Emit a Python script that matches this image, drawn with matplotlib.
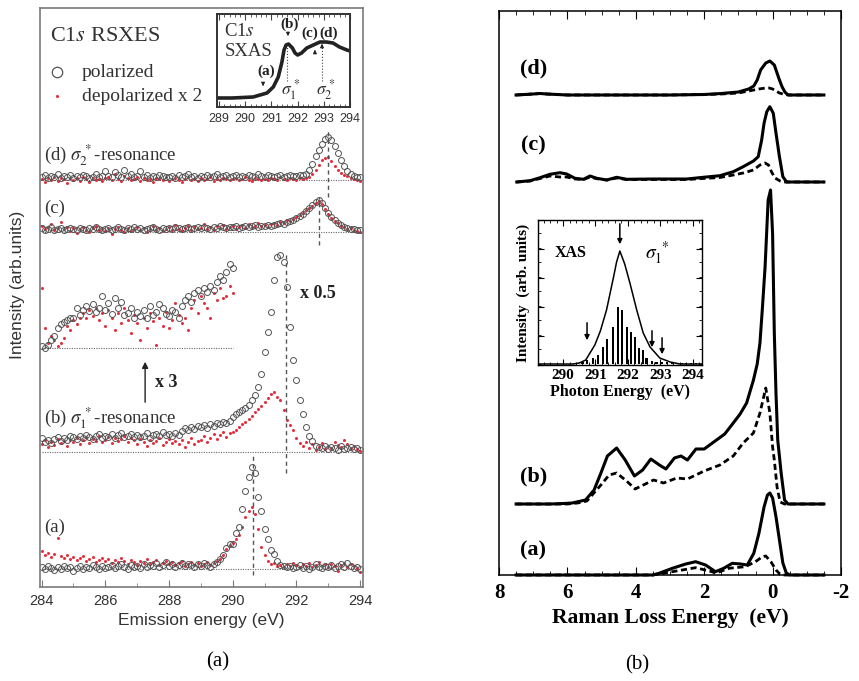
import numpy as np
import matplotlib
matplotlib.use('Agg')
import matplotlib.pyplot as plt
from matplotlib.ticker import MultipleLocator

plt.rcParams['font.family'] = ['Liberation Serif', 'DejaVu Serif']
plt.rcParams['mathtext.fontset'] = 'stix'
plt.rcParams['axes.unicode_minus'] = False

W, H = 859, 681

# ---------------- data: panel (a), RSXES spectra ----------------
# emission energy grid 284.0 ... 294.0 eV (0.1 eV step)
energy = np.linspace(284.0, 294.0, 101)

pol_d = [3, 5, 2, 4, 3, 6, 2, 4, 3, 5,
         2, 4, 3, 5, 4, 2, 3, 6, 3, 4,
         9, 4, 3, 8, 5, 3, 10, 4, 6, 3,
         4, 9, 3, 5, 2, 4, 3, 5, 4, 3,
         3, 4, 2, 5, 3, 4, 6, 3, 4, 2,
         4, 3, 5, 3, 4, 6, 3, 4, 5, 3,
         4, 5, 3, 4, 3, 5, 4, 3, 6, 4,
         3, 5, 4, 3, 4, 5, 3, 4, 5, 4,
         4, 5, 5, 6, 10, 16, 24, 30, 36, 41,
         43, 40, 34, 27, 20, 14, 9, 6, 4, 3, 3]
dep_d = [1, -2, 2, 0, 3, -1, 2, 1, -3, 2,
         0, 2, -1, 3, 1, -2, 2, 0, 1, -1,
         2, 3, 0, 6, 1, -1, 4, 2, 0, 1,
         3, -1, 2, 0, 1, -2, 2, 1, 0, 3,
         -1, 1, 2, 0, -2, 1, 3, 0, 1, -1,
         2, 0, 1, 3, -1, 1, 0, 2, 1, 0,
         1, 2, 0, 1, 3, 0, -1, 2, 1, 0,
         1, 0, 2, 1, 0, 3, 1, 0, 2, 1,
         0, 2, 1, 2, 3, 6, 10, 15, 20, 22,
         23, 19, 14, 10, 7, 5, 4, 2, 1, 0, -1]

pol_c = [4, 2, 3, 5, 2, 3, 4, 2, 3, 4,
         3, 2, 4, 3, 2, 4, 3, 5, 3, 2,
         3, 4, 2, 3, 5, 3, 2, 4, 3, 5,
         3, 4, 2, 3, 4, 5, 3, 2, 4, 3,
         4, 3, 5, 4, 3, 4, 5, 3, 4, 5,
         4, 5, 4, 3, 5, 4, 6, 5, 4, 5,
         5, 6, 4, 5, 6, 5, 6, 7, 5, 6,
         6, 7, 6, 7, 8, 9, 8, 10, 11, 12,
         14, 16, 18, 21, 24, 27, 30, 32, 29, 24,
         19, 15, 12, 9, 7, 5, 4, 3, 3, 2, 2]
dep_c = [6, 3, 5, 8, 2, 4, 10, 3, 5, 1,
         4, -1, 3, 5, 2, 0, 4, 6, 2, 3,
         1, 4, -2, 3, 5, 2, 0, 4, 1, 3,
         5, 2, 4, 0, 3, 6, 2, 4, 1, 3,
         5, 2, 7, 3, 1, 4, 6, 2, 5, 3,
         4, 8, 3, 5, 2, 6, 4, 7, 3, 5,
         6, 3, 5, 7, 4, 8, 5, 6, 9, 6,
         7, 5, 8, 9, 7, 10, 9, 12, 11, 13,
         15, 17, 19, 22, 24, 26, 29, 31, 28, 23,
         18, 14, 11, 9, 6, 5, 3, 4, 2, 1, 0]

# (b) polarized shown x 0.5
pol_b = [14, 10, 12, 9, 13, 15, 11, 14, 12, 16,
         15, 13, 16, 14, 17, 15, 13, 16, 18, 14,
         16, 15, 18, 14, 17, 19, 15, 16, 18, 15,
         17, 15, 16, 19, 14, 17, 18, 16, 20, 17,
         18, 16, 19, 17, 21, 24, 22, 25, 23, 26,
         25, 27, 24, 28, 26, 29, 28, 30, 29, 31,
         35, 38, 40, 42, 44, 47, 52, 57, 65, 78,
         100, 120, 140, 172, 195, 197, 190, 165, 125, 92,
         72, 52, 38, 25, 16, 11, 6, 5, 4, 6,
         3, 5, 4, 2, 6, 3, 4, 5, 3, 4, 2]
dep_b = [8, 12, 5, 10, 7, 13, 9, 11, 6, 12,
         10, 14, 8, 12, 15, 9, 13, 11, 16, 10,
         12, 15, 9, 14, 11, 13, 16, 10, 14, 12,
         8, 13, 10, 6, 12, 9, 11, 14, 7, 10,
         13, 9, 11, 8, 12, 5, 10, 14, 8, 11,
         12, 16, 10, 14, 18, 13, 17, 20, 15, 19,
         20, 22, 25, 28, 30, 33, 36, 40, 43, 46,
         50, 54, 58, 60, 55, 52, 42, 32, 27, 22,
         14, 9, 6, 10, 4, 8, 2, 5, 9, 3,
         6, 4, 10, 7, 5, 12, 8, 4, 6, 3, 1]

# (b) low-energy part x 3, 284.0 ... 290.0 eV
energy_x3 = np.linspace(284.0, 290.0, 61)
pol_x3 = [2, 0, 3, 8, 12, 20, 24, 26, 28, 30,
          30, 40, 33, 38, 42, 37, 44, 36, 40, 52,
          38, 45, 34, 50, 40, 46, 33, 35, 40, 30,
          36, 32, 38, 30, 42, 33, 36, 44, 40, 34,
          32, 38, 36, 30, 42, 48, 52, 46, 55, 58,
          52, 60, 56, 62, 58, 66, 72, 68, 76, 84, 80]
dep_x3 = [60, 20, 5, 12, 8, 2, 5, 10, 22, 18,
          28, 24, 30, 35, 30, 38, 32, 40, 28, 35,
          22, 38, 30, 18, 35, 25, 40, 28, 15, 33,
          25, 8, 30, 20, 35, 27, 3, 30, 22, 36,
          20, 28, 45, 33, 25, 30, 18, 40, 48, 35,
          52, 45, 40, 30, 55, 48, 60, 50, 52, 62, 55]

pol_a = [2, 0, 3, 1, -1, 2, 0, 3, 1, 2,
         -2, 1, 3, 0, 2, 1, 4, 2, 0, 3,
         1, 2, 4, 1, 3, 5, 2, 0, 4, 2,
         3, 1, 5, 2, 4, 3, 6, 2, 4, 7,
         3, 5, 2, 4, 6, 3, 5, 4, 2, 5,
         3, 6, 4, 2, 5, 7, 10, 14, 21, 25,
         25, 36, 42, 60, 78, 92, 102, 96, 72, 58,
         40, 30, 19, 15, 8, 4, 3, 2, 3, 1,
         2, 4, 1, 3, 0, 2, 5, 2, 1, 3,
         2, 4, 1, 3, 5, 2, 6, 3, 1, 2, 0]
dep_a = [18, 14, 16, 12, 15, 31, 13, 11, 14, 10,
         12, 9, 11, 13, 8, 10, 12, 7, 9, 11,
         8, 10, 6, 9, 7, 11, 8, 5, 9, 7,
         4, 8, 6, 10, 5, 7, 9, 4, 6, 8,
         5, 7, 4, 6, 8, 3, 5, 7, 4, 6,
         3, 5, 7, 4, 6, 8, 10, 14, 20, 24,
         26, 30, 34, 42, 52, 58, 62, 55, 40, 22,
         14, 8, 5, 6, 3, 4, 2, 5, 3, 6,
         4, 2, 5, 3, 6, 2, 4, 7, 3, 5,
         2, 5, 3, -2, 4, 6, 2, 5, 3, 1, -3]

# C1s SXAS (inset of panel a)
sxas_e = [288.95, 289.5, 290.3, 290.83, 291.07, 291.26, 291.4, 291.48, 291.56, 291.65,
          291.8, 291.9, 292.0, 292.15, 292.35, 292.6, 292.85, 293.1, 293.35, 293.6, 293.88, 294.0]
sxas_i = [9, 9, 10, 14, 20, 30, 45, 57, 62, 63,
          59, 54, 52, 54, 59, 62, 65, 65, 64, 60, 57, 56]

# ---------------- data: panel (b), calculated spectra ----------------
loss_d = [7.5, 7.0, 6.8, 6.6, 6.0, 5.0, 4.0, 3.0, 2.0, 1.5, 1.0, 0.7, 0.55, 0.45, 0.35,
          0.2, 0.08, -0.05, -0.12, -0.2, -0.28, -0.36, -0.45, -0.7, -1.5]
sol_d = [0, 1, 1.5, 1, 0, 0, 0, 0, 0.5, 1.5, 3, 6, 9, 15, 25,
         32, 34, 30, 23, 15, 8, 3, 0, 0, 0]
loss_d2 = [7.5, 7.0, 6.8, 6.6, 6.0, 3.0, 2.0, 1.5, 1.0, 0.7, 0.4, 0.2, 0.1, 0.0, -0.1, -0.2, -0.35, -0.5, -1.5]
dsh_d = [0, 1, 1.5, 1, 0, 0, 0.5, 1, 2, 4, 6, 7, 7, 6, 4, 2, 0.5, 0, 0]

loss_c = [7.48, 7.09, 6.80, 6.51, 6.22, 6.02, 5.78, 5.53, 5.34, 5.14, 4.85, 4.56, 4.27, 3.5,
          2.51, 2.03, 1.54, 1.15, 0.86, 0.56, 0.42, 0.32, 0.25, 0.17, 0.08, -0.02, -0.10,
          -0.2, -0.30, -0.41, -1.5]
sol_c = [0, 1.3, 4.3, 7.7, 9.3, 8, 3.7, 2.7, 6, 3.7, 2, 4.7, 2.7, 3,
         3, 4.7, 6.3, 10.3, 15.3, 21, 25.3, 42, 58.7, 70.3, 75.3, 68.7, 48.7,
         25.3, 5.3, 0, 0]
loss_c2 = [7.48, 7.09, 6.80, 6.51, 6.22, 6.02, 5.78, 5.53, 5.34, 5.14, 4.85, 4.56, 4.27, 3.5,
           2.51, 2.03, 1.54, 1.15, 0.86, 0.56, 0.37, 0.22, 0.12, 0.03, -0.07, -0.22, -0.32, -1.5]
dsh_c = [0, 1, 3.5, 6, 5, 5, 3, 2.5, 5, 3.3, 2, 4, 2.5, 2.5,
         2.5, 3.5, 4.5, 7, 9, 12, 17, 19, 17, 10, 4, 1, 0, 0]

loss_b = [7.5, 6.5, 6.1, 5.86, 5.47, 5.22, 5.02, 4.83, 4.56, 4.31,
          4.04, 3.8, 3.56, 3.31, 3.12, 2.87, 2.68, 2.49, 2.24, 2.0,
          1.8, 1.6, 1.4, 1.15, 0.95, 0.76, 0.56, 0.45, 0.37, 0.3,
          0.22, 0.13, 0.06, 0.0, -0.05, -0.1, -0.15, -0.25, -0.35, -0.45,
          -0.6, -1.0, -1.5]
sol_b = [0, 0, 0.5, 1, 4, 14, 31, 48, 56, 44,
         28, 34, 45, 39, 35, 46, 48, 44, 55, 55,
         60, 65, 70, 81, 90, 101, 124, 140, 161, 195,
         237, 304, 314, 270, 171, 110, 64, 31, 4, 0,
         0, 0, 0]
loss_b2 = [7.5, 6.0, 5.7, 5.43, 5.02, 4.78, 4.56, 4.27, 4.02, 3.78, 3.48, 3.19, 2.8, 2.49,
           2.0, 1.54, 1.15, 0.86, 0.56, 0.37, 0.2, 0.08, 0.0, -0.05, -0.13, -0.22, -0.35, -1.5]
dsh_b = [0, 0, 1, 3, 19, 29, 31, 23, 15, 19, 24, 21, 26, 25,
         33, 39, 48, 61, 71, 91, 116, 91, 57, 44, 17, 2, 0, 0]

loss_a = [7.5, 3.5, 3.32, 2.93, 2.54, 2.25, 1.96, 1.67, 1.43, 1.18, 0.94, 0.74, 0.55, 0.4,
          0.25, 0.15, 0.08, 0.0, -0.1, -0.2, -0.3, -0.4, -0.5, -1.5]
sol_a = [0, 0, 1.7, 6.7, 11, 13.3, 10, 3.3, 6.7, 11.7, 11, 10, 21.7, 41.7,
         68, 80, 82, 77, 58, 35, 12, 2, 0, 0]
loss_a2 = [7.5, 3.5, 2.93, 2.25, 1.77, 1.67, 1.28, 0.8, 0.5, 0.3, 0.2, 0.05, -0.1, -0.22, -0.3, -1.5]
dsh_a = [0, 0, 3.3, 7.3, 3.3, 1.7, 6.7, 8.3, 13.3, 18.3, 19, 13.3, 5, 0.7, 0, 0]

# XAS inset of panel b
xas_e = [289.2, 290.3, 290.5, 290.7, 290.98, 291.15, 291.34, 291.55, 291.65, 291.75, 291.9,
         292.06, 292.27, 292.47, 292.68, 292.98, 293.3, 293.6, 294.3]
xas_i = [0, 0, 1, 4, 19, 33, 54, 86, 102, 113, 100,
         81, 54, 31, 17, 6, 2, 0, 0]
stick_e = [290.6, 290.75, 290.91, 291.07, 291.22, 291.36, 291.53, 291.68, 291.83, 291.96,
           292.09, 292.22, 292.34, 292.45, 292.57, 292.73, 292.88, 293.04, 293.2, 293.35,
           293.5, 293.65, 293.8, 293.95, 294.1]
stick_i = [2, 4, 6, 9, 17, 25, 37, 57, 54, 37,
           32, 27, 16, 14, 6, 3, 2, 1.5, 1.5, 1,
           1, 1, 1, 1, 1]


def box(x0, y0, x1, y1):
    # pixel box -> figure fraction
    return [x0 / W, 1 - y1 / H, (x1 - x0) / W, (y1 - y0) / H]


fig = plt.figure(figsize=(W / 100, H / 100), dpi=100)
fig.patch.set_facecolor('white')

gray = '#7a7a7a'
red = '#e3303e'
ink = '#333333'
sans = ['Liberation Sans', 'DejaVu Sans']

# ===================== panel (a) =====================
ax = fig.add_axes(box(40, 8, 363, 587))
ax.set_xlim(283.95, 294.09)
ax.set_ylim(0, 579)
for s in ax.spines.values():
    s.set_color(gray)
    s.set_linewidth(1.2)
ax.set_yticks([])
ax.xaxis.set_major_locator(MultipleLocator(2))
ax.xaxis.set_minor_locator(MultipleLocator(1))
ax.tick_params(axis='x', which='both', direction='in', color=gray, top=False)
ax.tick_params(axis='x', which='major', length=5, labelsize=10.5, labelcolor=ink, pad=5)
ax.tick_params(axis='x', which='minor', length=3)
for lab in ax.get_xticklabels():
    lab.set_family(sans)
ax.set_xlabel('Emission energy (eV)', family=sans, fontsize=12.5, color=ink, labelpad=4)
fig.text(18 / W, 1 - 285 / H, 'Intensity (arb.units)', rotation=90, ha='center', va='center',
         family=sans, fontsize=12.5, color=ink)

bases = {'d': 407, 'c': 355, 'b': 135, 'a': 18}
series = [('d', pol_d, dep_d), ('c', pol_c, dep_c), ('b', pol_b, dep_b), ('a', pol_a, dep_a)]
for key, pol, dep in series:
    b0 = bases[key]
    ax.plot([284, 294], [b0, b0], ls=(0, (1, 1.2)), color='#666666', lw=0.8)
    ax.plot(energy, b0 + np.array(dep), '.', color=red, ms=4.4, mew=0)
    ax.plot(energy, b0 + np.array(pol), 'o', mfc='none', mec='#555555', ms=4.3, mew=0.7)

b3 = 239
ax.plot([284, 290], [b3, b3], ls=(0, (1, 1.2)), color='#666666', lw=0.8)
ax.plot(energy_x3, b3 + np.array(dep_x3), '.', color=red, ms=4.4, mew=0)
ax.plot(energy_x3, b3 + np.array(pol_x3), 'o', mfc='none', mec='#555555', ms=4.3, mew=0.7)

# resonance markers
for xv, y0, y1 in [(293.0, 390, 457), (292.7, 342, 390), (291.68, 114, 334), (290.65, 12, 132)]:
    ax.plot([xv, xv], [y0, y1], ls=(0, (3, 2.5)), color='#555555', lw=1.0)

ax.text(286.0, 551, 'C1$s$ RSXES', ha='center', va='center', fontsize=16, color=ink)
ax.plot([284.48], [515], 'o', mfc='none', mec='#555555', ms=7.5, mew=0.9)
ax.plot([284.48], [491], '.', color=red, ms=4.5, mew=0)
ax.text(285.27, 515, 'polarized', va='center', fontsize=14, color=ink)
ax.text(285.27, 491, 'depolarized x 2', va='center', fontsize=14, color=ink)
ax.text(284.08, 432, r'(d) $\sigma_2^{\,*}$-resonance', va='center', fontsize=13.5, color=ink)
ax.text(284.08, 379, '(c)', va='center', fontsize=13.5, color=ink)
ax.text(284.08, 169, r'(b) $\sigma_1^{\,*}$-resonance', va='center', fontsize=13.5, color=ink)
ax.text(284.08, 60, '(a)', va='center', fontsize=13.5, color=ink)
ax.text(292.1, 294, 'x 0.5', va='center', fontsize=13, fontweight='bold', color='#222222')
ax.text(287.56, 205, 'x 3', va='center', fontsize=13, fontweight='bold', color='#222222')
ax.annotate('', xy=(287.25, 228), xytext=(287.25, 182),
            arrowprops=dict(arrowstyle='-|>', color='#222222', lw=1.0, mutation_scale=9))

# inset: C1s SXAS
axi = fig.add_axes(box(217, 14, 350, 107))
axi.set_xlim(288.92, 294.0)
axi.set_ylim(0, 93)
for s in axi.spines.values():
    s.set_linewidth(1.4)
    s.set_color('#333333')
axi.set_yticks([])
axi.xaxis.set_major_locator(MultipleLocator(1))
axi.xaxis.set_minor_locator(MultipleLocator(0.2))
axi.tick_params(axis='x', which='both', direction='in', top=True, color='#444444')
axi.tick_params(axis='x', which='major', length=4, labelsize=9, labelcolor=ink, pad=4)
axi.tick_params(axis='x', which='minor', length=2.5)
for lab in axi.get_xticklabels():
    lab.set_family(sans)
axi.plot(sxas_e, sxas_i, color='#222222', lw=2.6)
axi.text(289.2, 75, 'C1$s$', va='center', fontsize=13.5, color=ink)
axi.text(289.2, 55, 'SXAS', va='center', fontsize=13.5, color=ink)
axi.text(290.8, 36, '(a)', ha='center', va='center', fontsize=11, fontweight='bold', color='#222222')
axi.text(291.71, 83, '(b)', ha='center', va='center', fontsize=11, fontweight='bold', color='#222222')
axi.text(292.45, 74, '(c)', ha='center', va='center', fontsize=11, fontweight='bold', color='#222222')
axi.text(293.2, 74, '(d)', ha='center', va='center', fontsize=11, fontweight='bold', color='#222222')
arrow_kw = dict(arrowstyle='-|>', color='#222222', lw=0.8, mutation_scale=5)
axi.annotate('', xy=(290.68, 18), xytext=(290.68, 26), arrowprops=arrow_kw)
axi.annotate('', xy=(291.63, 68), xytext=(291.63, 77), arrowprops=arrow_kw)
axi.annotate('', xy=(292.66, 60), xytext=(292.66, 52), arrowprops=arrow_kw)
axi.plot([291.6, 291.6], [26, 60], ls=':', color='#444444', lw=0.8)
axi.plot([292.93, 292.93], [26, 60], ls=':', color='#444444', lw=0.8)
axi.annotate('', xy=(292.93, 66), xytext=(292.93, 58), arrowprops=arrow_kw)
axi.text(291.75, 17, r'$\sigma_1^{\,*}$', ha='center', va='center', fontsize=12.5, color=ink)
axi.text(293.1, 17, r'$\sigma_2^{\,*}$', ha='center', va='center', fontsize=12.5, color=ink)

fig.text(218 / W, 1 - 662 / H, '(a)', ha='center', va='center', fontsize=15)

# ===================== panel (b) =====================
bx = fig.add_axes(box(499, 11, 841, 575))
bx.set_xlim(8, -2)
bx.set_ylim(0, 564)
for s in bx.spines.values():
    s.set_linewidth(1.1)
bx.set_yticks([])
bx.xaxis.set_major_locator(MultipleLocator(2))
bx.xaxis.set_minor_locator(MultipleLocator(0.5))
bx.tick_params(axis='x', which='both', direction='in', top=True)
bx.tick_params(axis='x', which='major', length=6, labelsize=15, pad=6)
bx.tick_params(axis='x', which='minor', length=3)
for lab in bx.get_xticklabels():
    lab.set_fontweight('bold')
bx.set_xlabel('Raman Loss Energy  (eV)', fontsize=15.5, fontweight='bold', labelpad=3)

offs = {'d': 480, 'c': 393, 'b': 71, 'a': 0}
curves = [('d', loss_d, sol_d, loss_d2, dsh_d), ('c', loss_c, sol_c, loss_c2, dsh_c),
          ('b', loss_b, sol_b, loss_b2, dsh_b), ('a', loss_a, sol_a, loss_a2, dsh_a)]
for key, xs, ys, xd, yd in curves:
    o = offs[key]
    bx.plot(xd, o + np.array(yd), color='black', lw=2.0, ls=(0, (2.2, 1.3)), clip_on=False)
    bx.plot(xs, o + np.array(ys), color='black', lw=2.2, clip_on=False)

lab_y = {'d': 507, 'c': 430, 'b': 99, 'a': 25}
for key, yv in lab_y.items():
    bx.text(7.0, yv, '(%s)' % key, ha='center', va='center', fontsize=16, fontweight='bold')

fig.text(637 / W, 1 - 665 / H, '(b)', ha='center', va='center', fontsize=15)

# inset: XAS
bxi = fig.add_axes(box(538, 220, 702, 365))
bxi.set_xlim(289.23, 294.28)
bxi.set_ylim(-1, 144)
for s in bxi.spines.values():
    s.set_linewidth(1.0)
bxi.xaxis.set_major_locator(MultipleLocator(1))
bxi.xaxis.set_minor_locator(MultipleLocator(0.2))
bxi.set_yticks([-1, 28, 57, 86, 115, 144])
bxi.yaxis.set_minor_locator(MultipleLocator(14.5))
bxi.set_yticklabels([])
bxi.tick_params(which='both', direction='in', top=True, right=True)
bxi.tick_params(which='major', length=4, labelsize=11, pad=3)
bxi.tick_params(which='minor', length=2)
for lab in bxi.get_xticklabels():
    lab.set_fontweight('bold')
bxi.set_xlabel('Photon Energy  (eV)', fontsize=11.5, fontweight='bold', labelpad=1)
bxi.set_ylabel('Intensity  (arb. units)', fontsize=11, fontweight='bold', labelpad=2)
bxi.bar(stick_e, stick_i, width=0.065, color='black', bottom=0)
bxi.plot(xas_e, xas_i, color='black', lw=1.1)
ak = dict(arrowstyle='-|>', color='black', lw=1.1, mutation_scale=7)
bxi.annotate('', xy=(291.75, 117), xytext=(291.75, 143), arrowprops=ak, annotation_clip=False)
bxi.annotate('', xy=(290.74, 21), xytext=(290.74, 44), arrowprops=ak)
bxi.annotate('', xy=(292.74, 14), xytext=(292.74, 36), arrowprops=ak)
bxi.annotate('', xy=(293.05, 7), xytext=(293.05, 29), arrowprops=ak)
bxi.text(290.22, 111, 'XAS', ha='center', va='center', fontsize=11.5, fontweight='bold')
bxi.text(292.9, 111, r'$\sigma_{1}^{\ *}$', ha='center', va='center', fontsize=14)

fig.savefig('out.png', dpi=100, facecolor='white')
